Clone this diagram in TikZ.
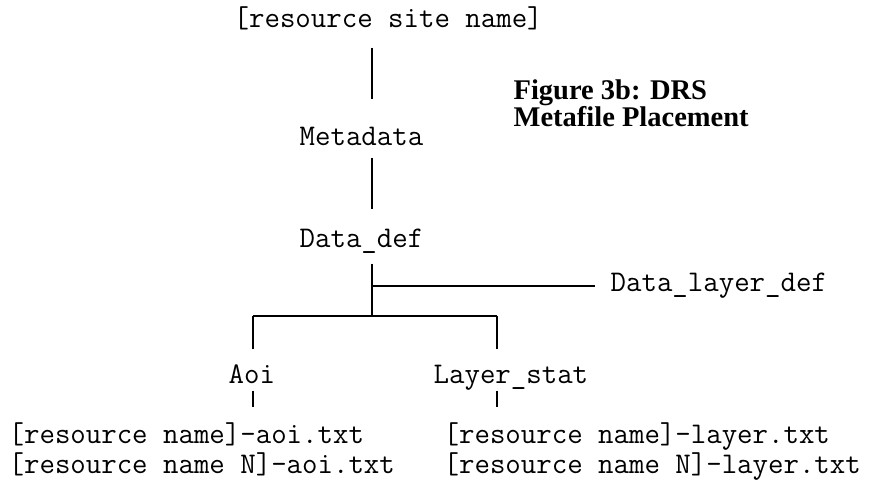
\documentclass[tikz,border=0pt]{standalone}
\usepackage{fontspec}
\setmainfont{Liberation Serif}

\begin{document}
\begin{tikzpicture}[x=1pt,y=-1pt,line width=1.3pt,
    file node/.style={font=\ttfamily\fontsize{30}{32}\selectfont,inner sep=0pt,text height=18pt,text depth=6pt,anchor=base west},
    title node/.style={font=\bfseries\fontsize{28.5}{26}\selectfont,align=left,anchor=north west,inner sep=0pt}]

            \useasboundingbox (0,0) rectangle (879,481);

            \node[file node] (site) at (233,28) {[resource site name]};
            \node[file node] (meta) at (299,146) {Metadata};
            \node[file node] (ddef) at (299,248) {Data\_def};
            \node[file node] (dld) at (610,292) {Data\_layer\_def};
            \node[file node] (aoi) at (228,383) {Aoi};
            \node[file node] (lst) at (433,383) {Layer\_stat};
            \node[file node] (aoi1) at (8,443) {[resource name]-aoi.txt};
            \node[file node] (aoi2) at (8,473) {[resource name N]-aoi.txt};
            \node[file node] (lay1) at (443,443) {[resource name]-layer.txt};
            \node[file node] (lay2) at (443,473) {[resource name N]-layer.txt};
            \node[title node] (title) at (513,79) {Figure 3b: DRS\\Metafile Placement};

            \coordinate (spine) at (372,0);
            \coordinate (fork) at (372,316);
            \coordinate (forkL) at (253,316);
            \coordinate (forkR) at (497,316);

            \draw[shorten <=13pt, shorten >=28pt] (site.south -| spine) -- (meta.north -| spine);
            \draw[shorten <=5pt, shorten >=20pt] (meta.south -| spine) -- (ddef.north -| spine);
            \draw[shorten <=9pt] (ddef.south -| spine) -- (fork);
            \draw[shorten >=15pt] (dld.west -| spine) -- (dld.west);
            \draw (forkL) -- (forkR);
            \draw[shorten >=15pt] (forkL) -- (forkL |- aoi.north);
            \draw[shorten >=15pt] (forkR) -- (forkR |- lst.north);
            \draw[shorten <=1pt, shorten >=17pt] (aoi.south -| forkL) -- (aoi1.north -| forkL);
            \draw[shorten <=1pt, shorten >=17pt] (lst.south -| forkR) -- (lay1.north -| forkR);
        \end{tikzpicture}
\end{document}
